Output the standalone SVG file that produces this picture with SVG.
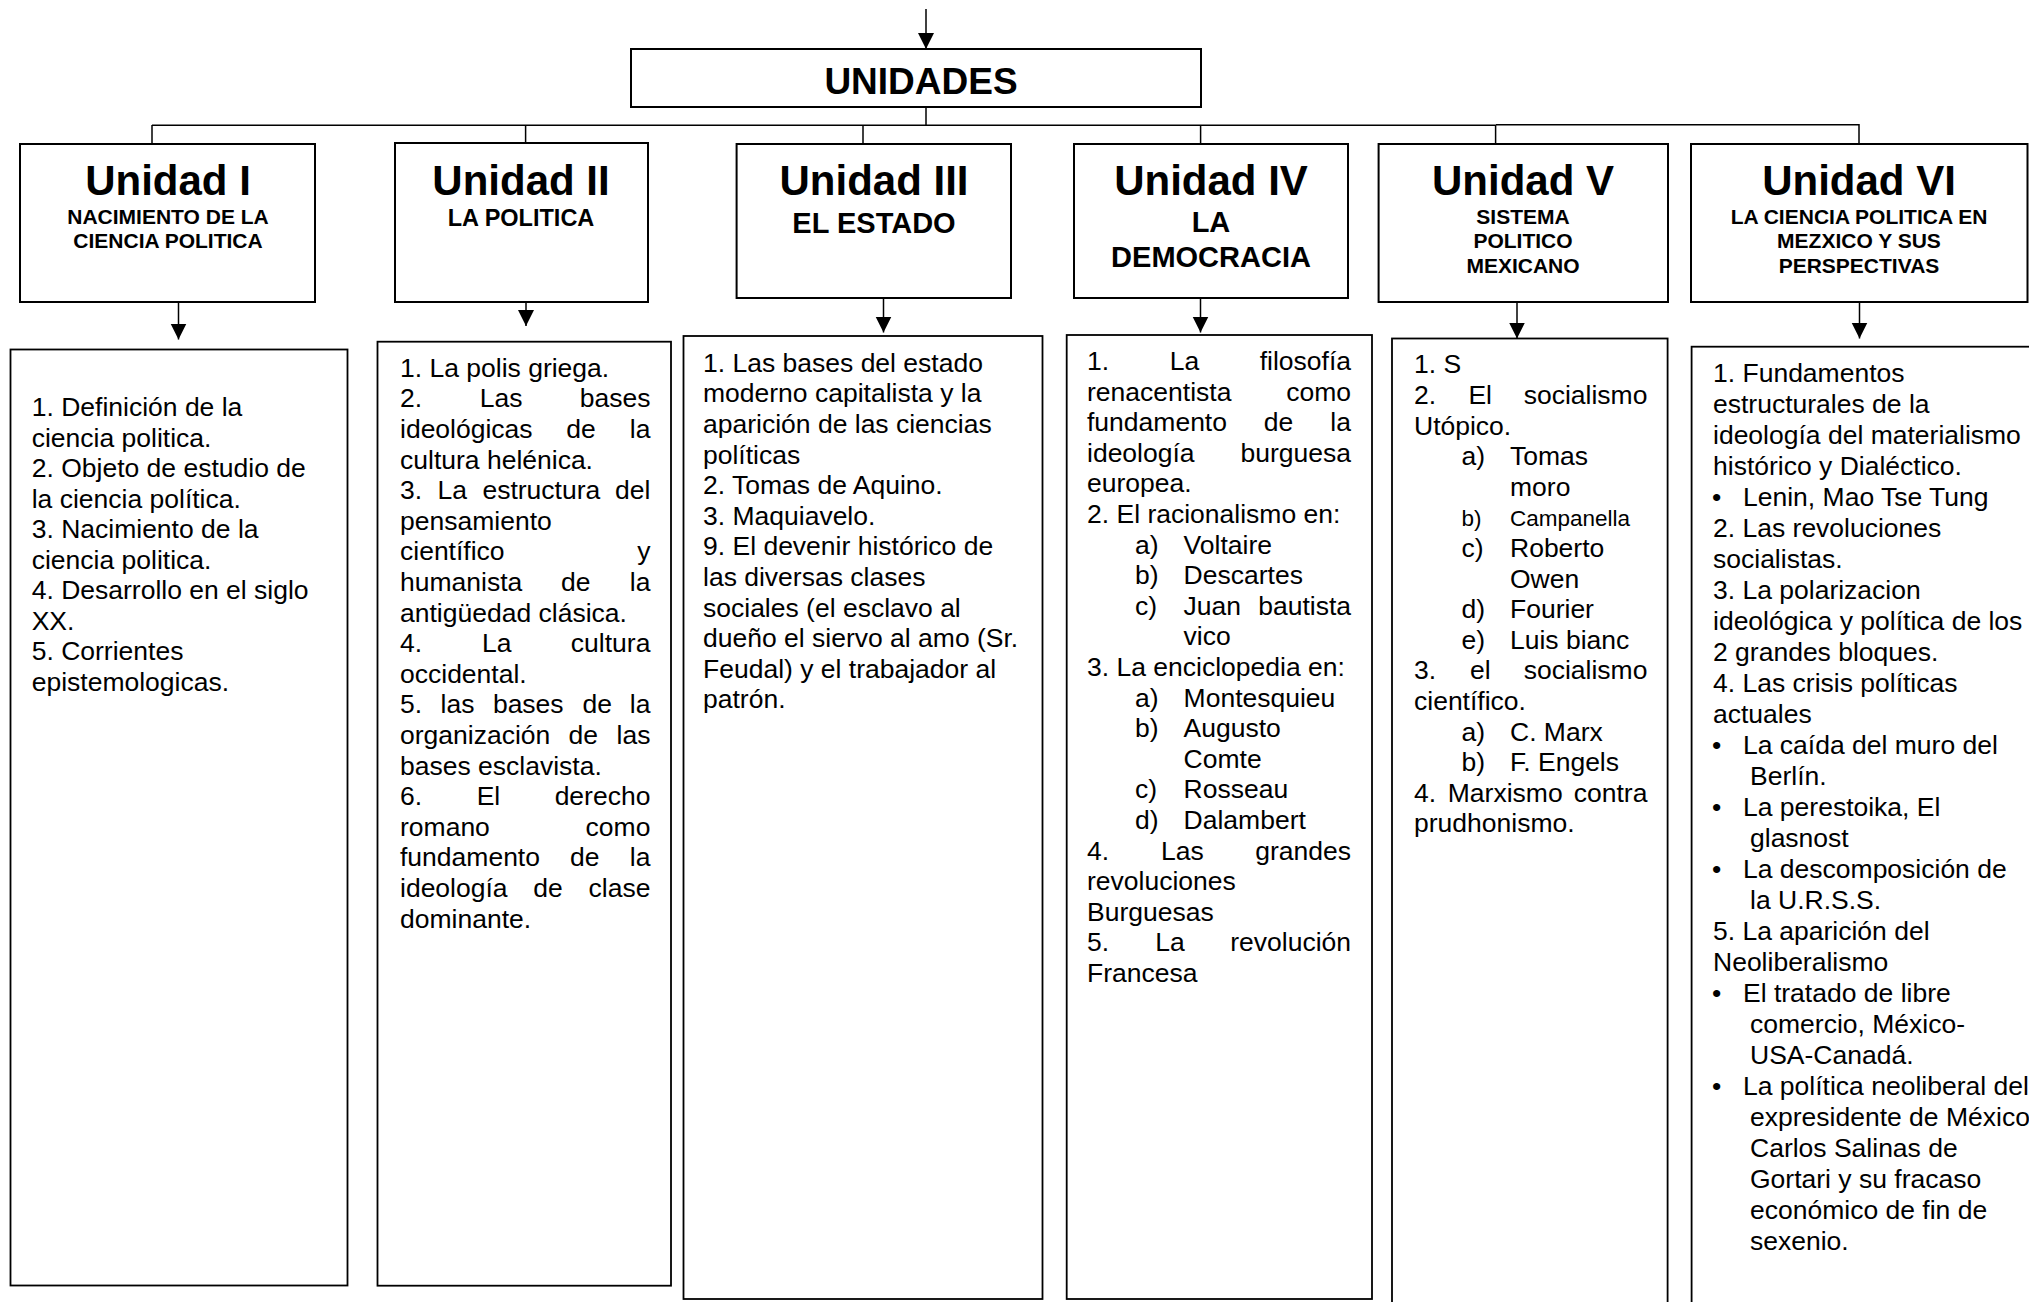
<svg xmlns="http://www.w3.org/2000/svg" width="2029" height="1302" viewBox="0 0 2029 1302">
<style>
.bg{fill:#fff}
.box{fill:#fff;stroke:#000;stroke-width:2}
.cbox{fill:#fff;stroke:#000;stroke-width:1.8}
.conn{stroke:#000;stroke-width:1.5;fill:none}
.arr{stroke:#000;stroke-width:1.5;fill:none;marker-end:url(#ah)}
text{font-family:"Liberation Sans",Arial,Helvetica,sans-serif;fill:#000}
.hd{font-weight:bold;text-anchor:middle}
.h0{font-size:37px}
.h1{font-size:42px}
.h2{font-size:21px}
.h2b{font-size:23.5px}
.h3{font-size:29px}
.t{font-size:26.5px}
.s{font-size:22.5px}
.e{text-anchor:end}
</style>
<defs>
<marker id="ah" markerUnits="userSpaceOnUse" markerWidth="16" markerHeight="17" refX="16" refY="8" orient="auto" viewBox="0 0 16 16">
<path d="M0,0 L16,8 L0,16 Z" fill="#000"/>
</marker>
</defs>
<rect class="bg" x="0" y="0" width="2029" height="1302"/>

<g id="connectors">
<line class="arr" x1="926" y1="9" x2="926" y2="49"/>
<line class="conn" x1="926" y1="107" x2="926" y2="125"/>
<path class="conn" d="M152,125.3 H1496"/>
<path class="conn" d="M1496,124.7 H1859 V144"/>
<line class="conn" x1="152" y1="125" x2="152" y2="144"/>
<line class="conn" x1="525.6" y1="125" x2="525.6" y2="145"/>
<line class="conn" x1="863" y1="125" x2="863" y2="144"/>
<line class="conn" x1="1200.6" y1="125" x2="1200.6" y2="144"/>
<line class="conn" x1="1495.6" y1="125" x2="1495.6" y2="144"/>
<line class="arr" x1="178.5" y1="302" x2="178.5" y2="339.5"/>
<line class="arr" x1="526" y1="286" x2="526" y2="326"/>
<line class="arr" x1="883.5" y1="298" x2="883.5" y2="332.5"/>
<line class="arr" x1="1200.5" y1="298" x2="1200.5" y2="332.5"/>
<line class="arr" x1="1517" y1="302" x2="1517" y2="338.5"/>
<line class="arr" x1="1859.5" y1="302" x2="1859.5" y2="338.5"/>
</g>

<g id="unidades">
<rect class="box" x="631" y="49" width="570" height="58"/>
<text class="hd h0" x="921" y="93.5">UNIDADES</text>
</g>

<g id="unidad1">
<rect class="box" x="20" y="144" width="295" height="158"/>
<text class="hd h1" x="168" y="195">Unidad I</text>
<text class="hd h2" x="168" y="224">NACIMIENTO DE LA</text>
<text class="hd h2" x="168" y="248">CIENCIA POLITICA</text>
</g>
<g id="unidad2">
<rect class="box" x="395" y="143" width="253" height="159"/>
<text class="hd h1" x="521" y="195">Unidad II</text>
<text class="hd h2b" x="521" y="225.5">LA POLITICA</text>
</g>
<g id="unidad3">
<rect class="box" x="736.6" y="144" width="274.4" height="154"/>
<text class="hd h1" x="874" y="195">Unidad III</text>
<text class="hd h3" x="874" y="232.5">EL ESTADO</text>
</g>
<g id="unidad4">
<rect class="box" x="1074" y="144" width="274" height="154"/>
<text class="hd h1" x="1211" y="195">Unidad IV</text>
<text class="hd h3" x="1211" y="232">LA</text>
<text class="hd h3" x="1211" y="266.5">DEMOCRACIA</text>
</g>
<g id="unidad5">
<rect class="box" x="1378.6" y="144" width="289.4" height="158"/>
<text class="hd h1" x="1523" y="195">Unidad V</text>
<text class="hd h2" x="1523" y="223.5">SISTEMA</text>
<text class="hd h2" x="1523" y="248">POLITICO</text>
<text class="hd h2" x="1523" y="272.5">MEXICANO</text>
</g>
<g id="unidad6">
<rect class="box" x="1691" y="144" width="336.5" height="158"/>
<text class="hd h1" x="1859" y="195">Unidad VI</text>
<text class="hd h2" x="1859" y="223.5">LA CIENCIA POLITICA EN</text>
<text class="hd h2" x="1859" y="248">MEZXICO Y SUS</text>
<text class="hd h2" x="1859" y="272.5">PERSPECTIVAS</text>
</g>

<g id="contenido1">
<rect class="cbox" x="10.5" y="349.5" width="337" height="936"/>
<text class="t" x="31.7" y="416">1. Definición de la</text>
<text class="t" x="31.7" y="446.5">ciencia politica.</text>
<text class="t" x="31.7" y="477">2. Objeto de estudio de</text>
<text class="t" x="31.7" y="507.5">la ciencia política.</text>
<text class="t" x="31.7" y="538">3. Nacimiento de la</text>
<text class="t" x="31.7" y="568.5">ciencia politica.</text>
<text class="t" x="31.7" y="599">4. Desarrollo en el siglo</text>
<text class="t" x="31.7" y="629.5">XX.</text>
<text class="t" x="31.7" y="660">5. Corrientes</text>
<text class="t" x="31.7" y="690.5">epistemologicas.</text>
</g>

<g id="contenido2">
<rect class="cbox" x="377.5" y="341.7" width="293.5" height="944"/>
<text class="t" x="400" y="376.7">1. La polis griega.</text>
<text class="t" y="407.3"><tspan x="400">2.</tspan><tspan x="479.7">Las</tspan></text><text class="t e" x="650.4" y="407.3">bases</text>
<text class="t" y="437.9"><tspan x="400">ideológicas</tspan><tspan x="566.3">de</tspan></text><text class="t e" x="650.4" y="437.9">la</text>
<text class="t" x="400" y="468.5">cultura helénica.</text>
<text class="t" y="499.1"><tspan x="400">3.</tspan><tspan x="437.5">La</tspan><tspan x="482.4">estructura</tspan></text><text class="t e" x="650.4" y="499.1">del</text>
<text class="t" x="400" y="529.7">pensamiento</text>
<text class="t" x="400" y="560.3">científico</text><text class="t e" x="650.4" y="560.3">y</text>
<text class="t" y="590.9"><tspan x="400">humanista</tspan><tspan x="561.1">de</tspan></text><text class="t e" x="650.4" y="590.9">la</text>
<text class="t" x="400" y="621.5">antigüedad clásica.</text>
<text class="t" y="652.1"><tspan x="400">4.</tspan><tspan x="481.9">La</tspan></text><text class="t e" x="650.4" y="652.1">cultura</text>
<text class="t" x="400" y="682.7">occidental.</text>
<text class="t" y="713.3"><tspan x="400">5.</tspan><tspan x="440.6">las</tspan><tspan x="492.9">bases</tspan><tspan x="582.5">de</tspan></text><text class="t e" x="650.4" y="713.3">la</text>
<text class="t" y="743.9"><tspan x="400">organización</tspan><tspan x="568.5">de</tspan></text><text class="t e" x="650.4" y="743.9">las</text>
<text class="t" x="400" y="774.5">bases esclavista.</text>
<text class="t" y="805.1"><tspan x="400">6.</tspan><tspan x="476.7">El</tspan></text><text class="t e" x="650.4" y="805.1">derecho</text>
<text class="t" x="400" y="835.7">romano</text><text class="t e" x="650.4" y="835.7">como</text>
<text class="t" y="866.3"><tspan x="400">fundamento</tspan><tspan x="570">de</tspan></text><text class="t e" x="650.4" y="866.3">la</text>
<text class="t" y="896.9"><tspan x="400">ideología</tspan><tspan x="533.3">de</tspan></text><text class="t e" x="650.4" y="896.9">clase</text>
<text class="t" x="400" y="927.5">dominante.</text>
</g>

<g id="contenido3">
<rect class="cbox" x="683.5" y="336" width="359" height="963"/>
<text class="t" x="703" y="371.7">1. Las bases del estado</text>
<text class="t" x="703" y="402.3">moderno capitalista y la</text>
<text class="t" x="703" y="432.9">aparición de las ciencias</text>
<text class="t" x="703" y="463.5">políticas</text>
<text class="t" x="703" y="494.1">2. Tomas de Aquino.</text>
<text class="t" x="703" y="524.7">3. Maquiavelo.</text>
<text class="t" x="703" y="555.3">9. El devenir histórico de</text>
<text class="t" x="703" y="585.9">las diversas clases</text>
<text class="t" x="703" y="616.5">sociales (el esclavo al</text>
<text class="t" x="703" y="647.1">dueño el siervo al amo (Sr.</text>
<text class="t" x="703" y="677.7">Feudal) y el trabajador al</text>
<text class="t" x="703" y="708.3">patrón.</text>
</g>

<g id="contenido4">
<rect class="cbox" x="1066.7" y="335" width="305.3" height="964"/>
<text class="t" y="370"><tspan x="1087">1.</tspan><tspan x="1169.8">La</tspan></text><text class="t e" x="1351" y="370">filosofía</text>
<text class="t" x="1087" y="400.6">renacentista</text><text class="t e" x="1351" y="400.6">como</text>
<text class="t" y="431.2"><tspan x="1087">fundamento</tspan><tspan x="1263.8">de</tspan></text><text class="t e" x="1351" y="431.2">la</text>
<text class="t" x="1087" y="461.8">ideología</text><text class="t e" x="1351" y="461.8">burguesa</text>
<text class="t" x="1087" y="492.4">europea.</text>
<text class="t" x="1087" y="523">2. El racionalismo en:</text>
<text class="t" y="553.6"><tspan x="1135">a)</tspan><tspan x="1183.6">Voltaire</tspan></text>
<text class="t" y="584.2"><tspan x="1135">b)</tspan><tspan x="1183.6">Descartes</tspan></text>
<text class="t" y="614.8"><tspan x="1135">c)</tspan><tspan x="1183.6">Juan</tspan></text><text class="t e" x="1351" y="614.8">bautista</text>
<text class="t" x="1183.6" y="645.4">vico</text>
<text class="t" x="1087" y="676">3. La enciclopedia en:</text>
<text class="t" y="706.6"><tspan x="1135">a)</tspan><tspan x="1183.6">Montesquieu</tspan></text>
<text class="t" y="737.2"><tspan x="1135">b)</tspan><tspan x="1183.6">Augusto</tspan></text>
<text class="t" x="1183.6" y="767.8">Comte</text>
<text class="t" y="798.4"><tspan x="1135">c)</tspan><tspan x="1183.6">Rosseau</tspan></text>
<text class="t" y="829"><tspan x="1135">d)</tspan><tspan x="1183.6">Dalambert</tspan></text>
<text class="t" y="859.6"><tspan x="1087">4.</tspan><tspan x="1161">Las</tspan></text><text class="t e" x="1351" y="859.6">grandes</text>
<text class="t" x="1087" y="890.2">revoluciones</text>
<text class="t" x="1087" y="920.8">Burguesas</text>
<text class="t" y="951.4"><tspan x="1087">5.</tspan><tspan x="1155.2">La</tspan></text><text class="t e" x="1351" y="951.4">revolución</text>
<text class="t" x="1087" y="982">Francesa</text>
</g>

<g id="contenido5">
<rect class="cbox" x="1392" y="338.5" width="275.6" height="975"/>
<text class="t" x="1414" y="373.3">1. S</text>
<text class="t" y="403.9"><tspan x="1414">2.</tspan><tspan x="1468.4">El</tspan></text><text class="t e" x="1647.4" y="403.9">socialismo</text>
<text class="t" x="1414" y="434.5">Utópico.</text>
<text class="t" y="465.1"><tspan x="1461.6">a)</tspan><tspan x="1510">Tomas</tspan></text>
<text class="t" x="1510" y="495.7">moro</text>
<text class="s" y="525.5"><tspan x="1461.6">b)</tspan><tspan x="1510">Campanella</tspan></text>
<text class="t" y="556.9"><tspan x="1461.6">c)</tspan><tspan x="1510">Roberto</tspan></text>
<text class="t" x="1510" y="587.5">Owen</text>
<text class="t" y="618.1"><tspan x="1461.6">d)</tspan><tspan x="1510">Fourier</tspan></text>
<text class="t" y="648.7"><tspan x="1461.6">e)</tspan><tspan x="1510">Luis bianc</tspan></text>
<text class="t" y="679.3"><tspan x="1414">3.</tspan><tspan x="1469.9">el</tspan></text><text class="t e" x="1647.4" y="679.3">socialismo</text>
<text class="t" x="1414" y="709.9">científico.</text>
<text class="t" y="740.5"><tspan x="1461.6">a)</tspan><tspan x="1510">C. Marx</tspan></text>
<text class="t" y="771.1"><tspan x="1461.6">b)</tspan><tspan x="1510">F. Engels</tspan></text>
<text class="t" y="801.7"><tspan x="1414">4.</tspan><tspan x="1447.8">Marxismo</tspan></text><text class="t e" x="1647.4" y="801.7">contra</text>
<text class="t" x="1414" y="832.3">prudhonismo.</text>
</g>

<g id="contenido6">
<rect class="cbox" x="1691.6" y="346.7" width="360" height="980"/>
<text class="t" x="1713" y="381.7">1. Fundamentos</text>
<text class="t" x="1713" y="412.7">estructurales de la</text>
<text class="t" x="1713" y="443.7">ideología del materialismo</text>
<text class="t" x="1713" y="474.7">histórico y Dialéctico.</text>
<text class="t" y="505.7"><tspan x="1712">•</tspan><tspan x="1743">Lenin, Mao Tse Tung</tspan></text>
<text class="t" x="1713" y="536.7">2. Las revoluciones</text>
<text class="t" x="1713" y="567.7">socialistas.</text>
<text class="t" x="1713" y="598.7">3. La polarizacion</text>
<text class="t" x="1713" y="629.7">ideológica y política de los</text>
<text class="t" x="1713" y="660.7">2 grandes bloques.</text>
<text class="t" x="1713" y="691.7">4. Las crisis políticas</text>
<text class="t" x="1713" y="722.7">actuales</text>
<text class="t" y="753.7"><tspan x="1712">•</tspan><tspan x="1743">La caída del muro del</tspan></text>
<text class="t" x="1750" y="784.7">Berlín.</text>
<text class="t" y="815.7"><tspan x="1712">•</tspan><tspan x="1743">La perestoika, El</tspan></text>
<text class="t" x="1750" y="846.7">glasnost</text>
<text class="t" y="877.7"><tspan x="1712">•</tspan><tspan x="1743">La descomposición de</tspan></text>
<text class="t" x="1750" y="908.7">la U.R.S.S.</text>
<text class="t" x="1713" y="939.7">5. La aparición del</text>
<text class="t" x="1713" y="970.7">Neoliberalismo</text>
<text class="t" y="1001.7"><tspan x="1712">•</tspan><tspan x="1743">El tratado de libre</tspan></text>
<text class="t" x="1750" y="1032.7">comercio, México-</text>
<text class="t" x="1750" y="1063.7">USA-Canadá.</text>
<text class="t" y="1094.7"><tspan x="1712">•</tspan><tspan x="1743">La política neoliberal del</tspan></text>
<text class="t" x="1750" y="1125.7">expresidente de México</text>
<text class="t" x="1750" y="1156.7">Carlos Salinas de</text>
<text class="t" x="1750" y="1187.7">Gortari y su fracaso</text>
<text class="t" x="1750" y="1218.7">económico de fin de</text>
<text class="t" x="1750" y="1249.7">sexenio.</text>
</g>
</svg>
